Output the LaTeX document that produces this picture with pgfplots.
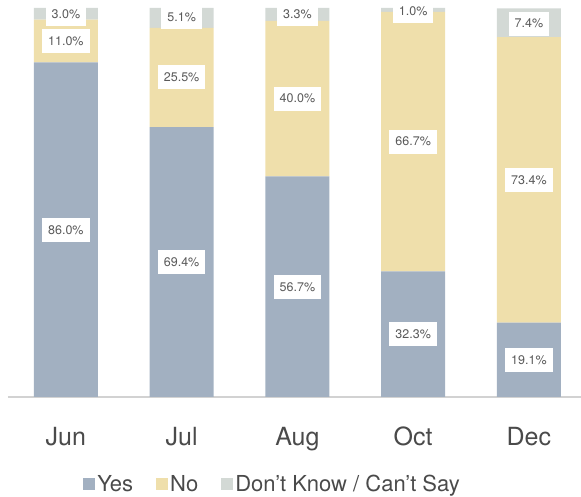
\documentclass[border=0pt]{standalone}
\usepackage{fontspec}
\setmainfont{TeX Gyre Heros}
\usepackage{pgfplots}
\usepackage{pgfplotstable}
\pgfplotsset{compat=1.18}
\definecolor{cyes}{HTML}{A2B0C1}
\definecolor{cno}{HTML}{EFDFAB}
\definecolor{cdk}{HTML}{D3D9D5}
\definecolor{txt}{HTML}{4A4A4A}
\definecolor{lbl}{HTML}{5A5A5A}
\pgfplotstableread{
x yes no dk
0 86.0 11.0 3.0
1 69.4 25.5 5.1
2 56.7 40.0 3.3
3 32.3 66.7 1.0
4 19.1 73.4 7.4
}\data
\pgfplotstableread{
x y label
0 43.0 86.0
0 91.5 11.0
0 98.5 3.0
1 34.7 69.4
1 82.15 25.5
1 97.6 5.1
2 28.35 56.7
2 76.7 40.0
2 98.35 3.3
3 16.15 32.3
3 65.65 66.7
3 99.2 1.0
4 9.55 19.1
4 55.8 73.4
4 96.0 7.4
}\labels
\begin{document}
\begin{tikzpicture}
\useasboundingbox (0,0) rectangle (581pt,497pt);
\begin{axis}[
  at={(8pt,100pt)}, anchor=south west,
  scale only axis, width=573pt, height=389pt,
  xmin=-0.5, xmax=4.45, ymin=0, ymax=100,
  ybar stacked, bar width=64pt,
  axis x line*=bottom, axis y line=none,
  x axis line style={-, draw=gray!35, line width=1.5pt},
  xtick={0,1,2,3,4}, xticklabels={Jun,Jul,Aug,Oct,Dec},
  xtick style={draw=none},
  xticklabel style={anchor=base, yshift=-49pt, font=\fontsize{25}{30}\selectfont, text=txt},
  legend columns=3,
  legend style={at={(0.131,-0.2237)}, anchor=west, draw=none, fill=none, inner sep=0pt,
    font=\fontsize{22}{26}\selectfont, text=txt,
    /tikz/every even column/.append style={column sep=21pt},
    nodes={inner sep=2pt}},
  legend image code/.code={\fill[#1] (0pt,-6pt) rectangle (12pt,6pt);},
]
\addplot[fill=cyes, draw=none] table[x=x, y=yes] {\data};
\addplot[fill=cno, draw=none] table[x=x, y=no] {\data};
\addplot[fill=cdk, draw=none] table[x=x, y=dk] {\data};
\legend{Yes, No, Don't Know / Can't Say}
\end{axis}
\begin{axis}[
  at={(8pt,100pt)}, anchor=south west,
  scale only axis, width=573pt, height=389pt,
  xmin=-0.5, xmax=4.45, ymin=0, ymax=100,
  hide axis,
]
\addplot[draw=none, mark=none, nodes near coords={\pgfplotspointmeta\%},
  point meta=explicit symbolic,
  every node near coord/.append style={anchor=center, fill=white, text=lbl,
    font=\fontsize{12.5}{14}\selectfont, inner xsep=6pt, minimum height=24pt}]
  table[x=x, y=y, meta=label] {\labels};
\end{axis}
\end{tikzpicture}
\end{document}
